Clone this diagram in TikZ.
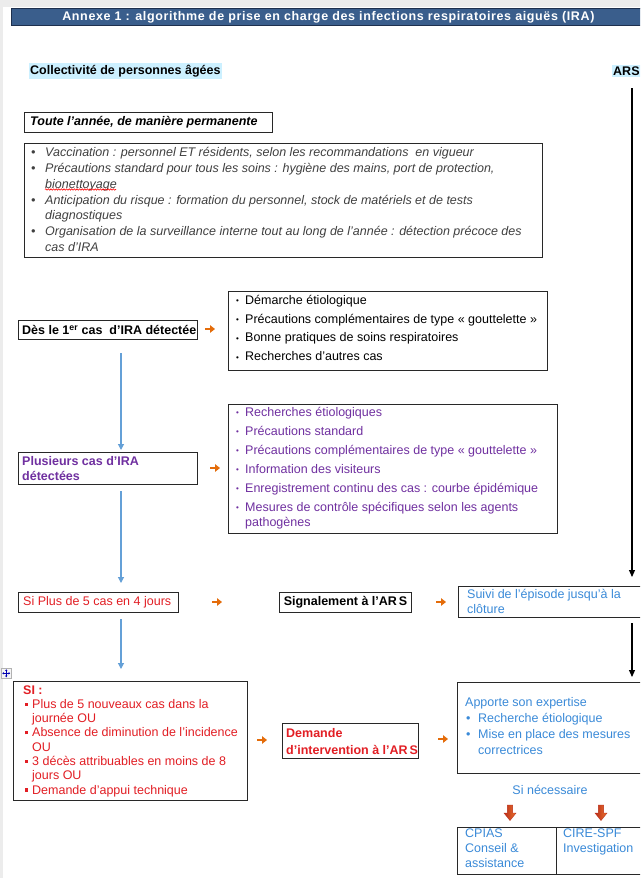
\documentclass[tikz,border=0pt]{standalone}
\usepackage{fontspec}
\setmainfont{Liberation Sans}
\usetikzlibrary{arrows.meta,decorations.pathmorphing,calc}
\definecolor{hdrfill}{RGB}{58,94,140}
\definecolor{hdrline}{RGB}{30,48,78}
\definecolor{hilite}{RGB}{204,240,255}
\definecolor{boxc}{RGB}{40,40,40}
\definecolor{txgray}{RGB}{64,64,64}
\definecolor{purp}{RGB}{112,48,160}
\definecolor{redt}{RGB}{226,30,36}
\definecolor{bluet}{RGB}{58,138,216}
\definecolor{lineblue}{RGB}{100,160,215}
\definecolor{arrorange}{RGB}{228,108,10}
\definecolor{darrA}{RGB}{185,45,25}
\definecolor{darrB}{RGB}{235,115,45}
\definecolor{pagegray}{RGB}{236,236,236}
\newcommand\bulL{\makebox[14pt][l]{•}}
\newcommand\indL{\makebox[14pt]{}}
\newcommand\bulS{\makebox[9pt][l]{\fontsize{8}{8}\selectfont\raisebox{0.6pt}{•}}}
\newcommand\indS{\makebox[9pt]{}}
\newcommand\bulQ{\makebox[9pt][l]{\hspace{1.5pt}\rule[2.6pt]{3.2pt}{3.2pt}}}
\newcommand\indQ{\makebox[9pt]{}}
\newcommand\bulA{\makebox[13pt][l]{\hspace{1pt}•}}
\newcommand\indA{\makebox[13pt]{}}
\begin{document}
\begin{tikzpicture}[x=1pt,y=-1pt,
  bx/.style={draw=boxc, line width=1.1pt, inner sep=0pt, anchor=north west},
  tx/.style={inner sep=0pt, anchor=west, align=left, font=\fontsize{12.5}{15}\selectfont},
  bold/.style={font=\bfseries\fontsize{12.5}{14}\selectfont},
  hl/.style={fill=hilite, inner xsep=1pt, inner ysep=2pt, anchor=west, font=\bfseries\fontsize{12.5}{14}\selectfont},
  blarr/.style={draw=lineblue, line width=1.2pt, -{Triangle[width=6pt,length=6pt]}},
  karr/.style={draw=black, line width=1.1pt, -{Triangle[width=6pt,length=7pt]}},
  oarrow/.style={draw=arrorange, line width=2.3pt, -{Triangle[width=7.5pt,length=5pt]}},
  darr/.style={left color=darrA, right color=darrB, draw=darrA, line width=0.4pt}
]
\useasboundingbox (0,0) rectangle (640,878);
\begin{scope}
\clip (0,0) rectangle (640,878);
\fill[white] (0,0) rectangle (640,878);
\fill[pagegray] (0,0) rectangle (640,7);
\fill[pagegray] (0,0) rectangle (3,878);

% header
\node[draw=hdrline, fill=hdrfill, line width=0.8pt, minimum width=634pt, minimum height=17pt,
      inner sep=0pt, anchor=north west, text=white,
      font=\bfseries\fontsize{12.5}{14}\selectfont\addfontfeature{LetterSpace=5}] (hdr) at (11,8)
  {Annexe 1 : algorithme de prise en charge des infections respiratoires aiguës (IRA)};

\node[hl] (coll) at (29,71) {Collectivité de personnes âgées};
\node[hl] (ars) at (612,71) {ARS};

% permanent
\node[bx, minimum width=248pt, minimum height=20pt] (toute) at (24,112) {};
\node[tx, font=\bfseries\itshape\fontsize{12.5}{14}\selectfont] (toutet) at ([xshift=6pt]toute.west)
  {Toute l’année, de manière permanente};

\node[bx, minimum width=518pt, minimum height=114pt] (perm) at (24,143) {};
\node[tx, text=txgray, font=\itshape\fontsize{12.5}{15.8}\selectfont] (permt) at ([xshift=7pt,yshift=1pt]perm.west)
  {\bulL Vaccination : personnel ET résidents, selon les recommandations\ \ en vigueur\\
   \bulL Précautions standard pour tous les soins : hygiène des mains, port de protection,\\
   \indL bionettoyage\\
   \bulL Anticipation du risque : formation du personnel, stock de matériels et de tests\\
   \indL diagnostiques\\
   \bulL Organisation de la surveillance interne tout au long de l’année : détection précoce des\\
   \indL cas d’IRA};
\draw[red, line width=0.6pt, decorate, decoration={snake, amplitude=0.7pt, segment length=2.6pt}] (45,189.5) -- (116,189.5);

% first case
\node[bx, minimum width=179pt, minimum height=19pt] (des) at (18,320) {};
\node[tx, bold, anchor=west] (dest) at ([xshift=4pt]des.west) {Dès le 1\textsuperscript{er} cas\ \ d’IRA détectée};
\coordinate (o1) at (210,329);
\draw[oarrow] ([xshift=-5pt]o1) -- ([xshift=5pt]o1);
\node[bx, minimum width=319pt, minimum height=79pt] (etio) at (228,291) {};
\node[tx] (etiot) at ([xshift=8pt,yshift=3pt]etio.west)
  {\bulS Démarche étiologique\\[3.7pt]
   \bulS Précautions complémentaires de type « gouttelette »\\[3.7pt]
   \bulS Bonne pratiques de soins respiratoires\\[3.7pt]
   \bulS Recherches d’autres cas};

% several cases
\node[bx, minimum width=179pt, minimum height=32pt] (plus) at (18,452) {};
\node[tx, text=purp, font=\bfseries\fontsize{12.5}{15}\selectfont] (plust) at ([xshift=4pt]plus.west)
  {Plusieurs cas d’IRA\\détectées};
\coordinate (o2) at (215,468);
\draw[oarrow] ([xshift=-5pt]o2) -- ([xshift=5pt]o2);
\node[bx, minimum width=329pt, minimum height=129pt] (mes) at (228,404) {};
\node[tx, text=purp] (mest) at ([xshift=8pt,yshift=1pt]mes.west)
  {\bulS Recherches étiologiques\\[4pt]
   \bulS Précautions standard\\[4pt]
   \bulS Précautions complémentaires de type « gouttelette »\\[4pt]
   \bulS Information des visiteurs\\[4pt]
   \bulS Enregistrement continu des cas : courbe épidémique\\[4pt]
   \bulS Mesures de contrôle spécifiques selon les agents\\
   \indS pathogènes};

% more than 5
\node[bx, minimum width=160pt, minimum height=20pt] (sip) at (18,592) {};
\node[tx, text=redt] (sipt) at ([xshift=5pt]sip.west) {Si Plus de 5 cas en 4 jours};
\coordinate (o3) at (217,602);
\draw[oarrow] ([xshift=-5pt]o3) -- ([xshift=5pt]o3);
\node[bx, minimum width=132pt, minimum height=20pt] (sig) at (279,592) {};
\node[tx, bold, anchor=center] (sigt) at (sig.center) {Signalement à l’AR\kern2pt S};
\coordinate (o4) at (441,602);
\draw[oarrow] ([xshift=-5pt]o4) -- ([xshift=5pt]o4);
\node[bx, minimum width=200pt, minimum height=31pt] (suivi) at (458,586) {};
\node[tx, text=bluet] (suivit) at ([xshift=9pt,yshift=1pt]suivi.west) {Suivi de l’épisode jusqu’à la\\clôture};

% criteria
\node[bx, minimum width=234pt, minimum height=119pt] (crit) at (13,681) {};
\node[tx, text=redt, font=\fontsize{12.5}{14.3}\selectfont] (critt) at ([xshift=10pt]crit.west)
  {\textbf{SI :}\\
   \bulQ Plus de 5 nouveaux cas dans la\\
   \indQ journée OU\\
   \bulQ Absence de diminution de l’incidence\\
   \indQ OU\\
   \bulQ 3 décès attribuables en moins de 8\\
   \indQ jours OU\\
   \bulQ Demande d’appui technique};
\coordinate (o5) at (262,740);
\draw[oarrow] ([xshift=-5pt]o5) -- ([xshift=5pt]o5);
\node[bx, minimum width=136pt, minimum height=35pt] (dem) at (282,723) {};
\node[tx, text=redt, font=\bfseries\fontsize{12.5}{17}\selectfont] (demt) at ([xshift=4pt]dem.west)
  {Demande\\d’intervention à l’AR\kern2pt S};
\coordinate (o6) at (443,739);
\draw[oarrow] ([xshift=-5pt]o6) -- ([xshift=5pt]o6);
\node[bx, minimum width=200pt, minimum height=91pt] (app) at (457,682) {};
\node[tx, text=bluet, font=\fontsize{12.5}{15.7}\selectfont] (appt) at ([xshift=8pt,yshift=2pt]app.west)
  {Apporte son expertise\\
   \bulA Recherche étiologique\\
   \bulA Mise en place des mesures\\
   \indA correctrices};

\node[tx, text=bluet, anchor=center] (sinec) at (550,790) {Si nécessaire};
\coordinate (da1) at (510,805);
\coordinate (da2) at (601,805);
\foreach \c in {da1,da2}{
  \path[darr] (\c) ++(-2.6,0) -- ++(5.2,0) -- ++(0,8) -- ++(3.4,0) -- ++(-6,7.5) -- ++(-6,-7.5) -- ++(3.4,0) -- cycle;
}
\node[bx, minimum width=99pt, minimum height=47pt] (cpias) at (457,827) {};
\node[bx, minimum width=100pt, minimum height=47pt] (cire) at (556,827) {};
\node[tx, text=bluet, anchor=north west] (cpiast) at ([xshift=8pt,yshift=-1.5pt]cpias.north west)
  {CPIAS\\Conseil \&\\assistance};
\node[tx, text=bluet, anchor=north west] (ciret) at ([xshift=7pt,yshift=-1.5pt]cire.north west)
  {CIRE-SPF\\Investigation};

% vertical connectors
\coordinate (vx) at (121,0);
\draw[blarr, shorten <=13pt, shorten >=2pt] (des.south -| vx) -- (plus.north -| vx);
\draw[blarr, shorten <=6pt, shorten >=9pt] (plus.south -| vx) -- (sip.north -| vx);
\draw[blarr, shorten <=6pt, shorten >=12pt] (sip.south -| vx) -- (crit.north -| vx);
\coordinate (ax) at (632,88);
\draw[karr, shorten >=9pt] (ax) -- (suivi.north -| ax);
\draw[karr, shorten <=5pt, shorten >=5pt] (suivi.south -| ax) -- (app.north -| ax);

% table move handle
\node[draw=gray!60, fill=gray!8, line width=0.5pt, minimum size=10pt, inner sep=0pt, anchor=north west] (mv) at (1,668) {};
\draw[blue!70!black, line width=0.6pt, {Stealth[length=1.8pt,width=2.4pt]}-{Stealth[length=1.8pt,width=2.4pt]}] ([yshift=4pt]mv.center) -- ([yshift=-4pt]mv.center);
\draw[blue!70!black, line width=0.6pt, {Stealth[length=1.8pt,width=2.4pt]}-{Stealth[length=1.8pt,width=2.4pt]}] ([xshift=-4pt]mv.center) -- ([xshift=4pt]mv.center);
\end{scope}
\end{tikzpicture}
\end{document}
